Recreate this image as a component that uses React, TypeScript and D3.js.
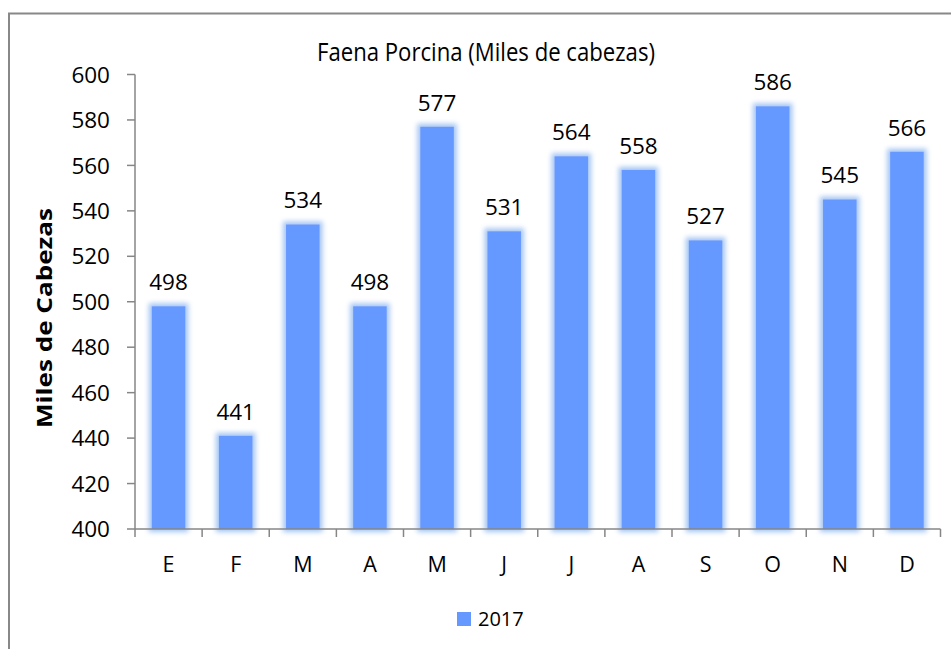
import React from "react";
import * as d3 from "d3";

const months = ["E", "F", "M", "A", "M", "J", "J", "A", "S", "O", "N", "D"];
const values2017 = [498, 441, 534, 498, 577, 531, 564, 558, 527, 586, 545, 566];
const yTicks = [400, 420, 440, 460, 480, 500, 520, 540, 560, 580, 600];
const seriesName = "2017";
const chartTitle = "Faena Porcina (Miles de cabezas)";
const yTitle = "Miles de Cabezas";

const W = 951;
const H = 649;
const FONT = "'Open Sans', 'Noto Sans', sans-serif";

export default function App() {
  const left = 135;
  const right = 940.5;
  const top = 74.5;
  const bottom = 529;
  const idx = months.map((_, i) => String(i));
  const x = d3.scaleBand<string>().domain(idx).range([left, right]).paddingInner(0.5).paddingOuter(0.25);
  const xb = d3.scaleBand<string>().domain(idx).range([left, right]);
  const y = d3.scaleLinear().domain([400, 600]).range([bottom, top]);
  const axisColor = "#868686";

  return (
    <svg
      width={W}
      height={H}
      style={{ position: "absolute", left: 0, top: 0, background: "#fff" }}
    >
      <defs>
        <filter id="glow" x="-50%" y="-20%" width="200%" height="140%">
          <feMorphology in="SourceAlpha" operator="dilate" radius="2.5" result="dil" />
          <feGaussianBlur in="dil" stdDeviation="2.5" result="blur" />
          <feFlood floodColor="#a5c6f3" result="col" />
          <feComposite in="col" in2="blur" operator="in" result="glowc" />
          <feMerge>
            <feMergeNode in="glowc" />
            <feMergeNode in="SourceGraphic" />
          </feMerge>
        </filter>
      </defs>
      <rect x={9} y={13.5} width={1000} height={1000} fill="#fff" stroke="#888" strokeWidth={2} />

      <text x={486} y={61} textAnchor="middle" fontFamily={FONT} fontSize={25.5} fill="#000" textLength={338} lengthAdjust="spacingAndGlyphs">
        {chartTitle}
      </text>

      {/* bars */}
      {values2017.map((v, i) => (
        <rect
          key={"b" + i}
          x={x(String(i))}
          y={y(v)}
          width={x.bandwidth()}
          height={bottom - y(v)}
          fill="#6699ff"
          filter="url(#glow)"
        />
      ))}

      {/* y axis */}
      <line x1={left} x2={left} y1={top} y2={bottom} stroke={axisColor} strokeWidth={1.5} />
      {yTicks.map((t) => (
        <g key={"yt" + t}>
          <line x1={left - 8} x2={left} y1={y(t)} y2={y(t)} stroke={axisColor} strokeWidth={1.5} />
          <text x={110} y={y(t)} dy="0.36em" textAnchor="end" fontFamily={FONT} fontSize={22.5} fill="#000">
            {t}
          </text>
        </g>
      ))}

      {/* x axis */}
      <line x1={left} x2={right} y1={bottom} y2={bottom} stroke={axisColor} strokeWidth={1.5} />
      {idx.concat(["end"]).map((k, i) => {
        const px = k === "end" ? right : (xb(k) as number);
        return <line key={"xt" + i} x1={px} x2={px} y1={bottom} y2={bottom + 8} stroke={axisColor} strokeWidth={1.5} />;
      })}
      {months.map((m, i) => (
        <text key={"xl" + i} x={(xb(String(i)) as number) + xb.bandwidth() / 2} y={572} textAnchor="middle" fontFamily={FONT} fontSize={21.5} fill="#000">
          {m}
        </text>
      ))}

      {/* data labels */}
      {values2017.map((v, i) => (
        <text key={"dl" + i} x={(x(String(i)) as number) + x.bandwidth() / 2} y={y(v) - 16} textAnchor="middle" fontFamily={FONT} fontSize={22.5} fill="#000">
          {v}
        </text>
      ))}

      {/* y title */}
      <text transform={`translate(52,318) rotate(-90)`} textAnchor="middle" fontFamily={FONT} fontSize={21} fontWeight="bold" fill="#000" textLength={220} lengthAdjust="spacingAndGlyphs">
        {yTitle}
      </text>

      {/* legend */}
      <rect x={457} y={612} width={14} height={14} fill="#6699ff" />
      <text x={478} y={626} fontFamily={FONT} fontSize={20} fill="#000">
        {seriesName}
      </text>
    </svg>
  );
}
